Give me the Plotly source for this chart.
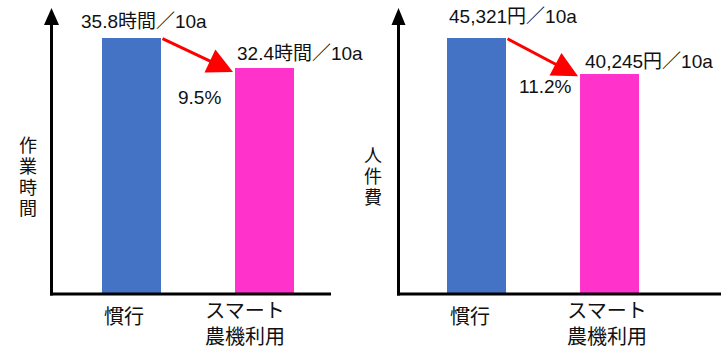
import plotly.graph_objects as go

W, H = 721, 348

categories = ["慣行", "スマート<br>農機利用"]
hours = [35.8, 32.4]
hour_labels = ["35.8時間／10a", "32.4時間／10a"]
cost = [45321, 40245]
cost_labels = ["45,321円／10a", "40,245円／10a"]
pct_labels = ["9.5%", "11.2%"]
ytitles = ["作業時間", "人件費"]
bar_colors = ["#4472C4", "#FF33CC"]

FONT = "Liberation Sans, Arial, Noto Sans CJK JP, sans-serif"

def px(x):
    return x / W

def py(y):
    return 1 - y / H

bw = 0.4436
fig = go.Figure()
fig.add_trace(go.Bar(x=categories, y=hours, width=bw, marker=dict(color=bar_colors, line_width=0),
                     xaxis="x", yaxis="y", showlegend=False, hoverinfo="skip"))
fig.add_trace(go.Bar(x=categories, y=cost, width=bw, marker=dict(color=bar_colors, line_width=0),
                     xaxis="x2", yaxis="y2", showlegend=False, hoverinfo="skip"))

axis_common = dict(showgrid=False, zeroline=False, showline=False, showticklabels=False, ticks="", fixedrange=True)
fig.update_layout(
    width=W, height=H, margin=dict(l=0, r=0, t=0, b=0),
    paper_bgcolor="white", plot_bgcolor="white",
    font=dict(family=FONT, color="#111111"),
    xaxis=dict(domain=[px(51.5), px(331)], range=[-0.6015, 1.5], type="category", anchor="y", **axis_common),
    yaxis=dict(domain=[py(294), py(20)], range=[6.788, 37.84], anchor="x", **axis_common),
    xaxis2=dict(domain=[px(398.5), px(721)], range=[-0.5865, 1.838], type="category", anchor="y2", **axis_common),
    yaxis2=dict(domain=[py(294), py(20)], range=[9225, 47859], anchor="x2", **axis_common),
)

shapes = []
# axes with arrowheads (decoration)
for (xl, xr, w_tri) in [(51.5, 331, 7.5), (398.5, 721, 7)]:
    shapes.append(dict(type="line", xref="paper", yref="paper", x0=px(xl), x1=px(xl), y0=py(295.5), y1=py(20),
                       line=dict(color="black", width=3)))
    shapes.append(dict(type="line", xref="paper", yref="paper", x0=px(xl - 1.5), x1=px(xr), y0=py(294), y1=py(294),
                       line=dict(color="black", width=3)))
    shapes.append(dict(type="path", xref="paper", yref="paper",
                       path=f"M {px(xl - w_tri)},{py(25)} L {px(xl + w_tri)},{py(25)} L {px(xl)},{py(8)} Z",
                       fillcolor="black", line=dict(width=0)))
fig.update_layout(shapes=shapes)

ann = []
# value labels
vals_sets = [(hours, hour_labels, "x", "y", [(-52.5, 17), (-29.5, 15)], 0.45),
             (cost, cost_labels, "x2", "y2", [(-29.5, 22), (-26.5, 13)], 300)]
for vals, labs, xr, yr, shifts, off in vals_sets:
    for i, (v, t) in enumerate(zip(vals, labs)):
        ann.append(dict(x=categories[i], y=v, xref=xr, yref=yr, text=t, showarrow=False,
                        xanchor="left", yanchor="middle", xshift=shifts[i][0], yshift=shifts[i][1],
                        font=dict(size=19, family=FONT, color="#111111")))
    # red arrow between bar tops
    ann.append(dict(x=1 - bw / 2 - 0.015, y=vals[1] - off, ax=0 + bw / 2, ay=vals[0],
                    xref=xr, yref=yr, axref=xr, ayref=yr, text="", showarrow=True,
                    arrowhead=2, arrowsize=1.7, arrowwidth=3, arrowcolor="#FF0000"))

# percent labels
ann.append(dict(x=0.5, y=(hours[0] + hours[1]) / 2, xref="x", yref="y", text=pct_labels[0], showarrow=False,
                xshift=1, yshift=-44, font=dict(size=19, family=FONT, color="#111111")))
ann.append(dict(x=0.5, y=(cost[0] + cost[1]) / 2, xref="x2", yref="y2", text=pct_labels[1], showarrow=False,
                xshift=2.5, yshift=-30, font=dict(size=19, family=FONT, color="#111111")))

# category labels
for xr, shifts in [("x", [-7.5, -19.5]), ("x2", [-6.5, -2.5])]:
    for i, c in enumerate(categories):
        ann.append(dict(x=i, y=py(317 if i == 0 else 324), xref=xr, yref="paper", text=c, showarrow=False,
                        xshift=shifts[i], xanchor="center", yanchor="middle",
                        font=dict(size=20, family=FONT, color="#111111")))

# vertical y titles, one character per line
for title, xc, yc in [(ytitles[0], 28, 177.5), (ytitles[1], 373, 177)]:
    n = len(title)
    for k, ch in enumerate(title):
        yk = yc + (k - (n - 1) / 2) * 21
        ann.append(dict(x=px(xc), y=py(yk), xref="paper", yref="paper", text=ch, showarrow=False,
                        xanchor="center", yanchor="middle", font=dict(size=18, family=FONT, color="#111111")))

fig.update_layout(annotations=ann)
fig.write_html("out.html")
